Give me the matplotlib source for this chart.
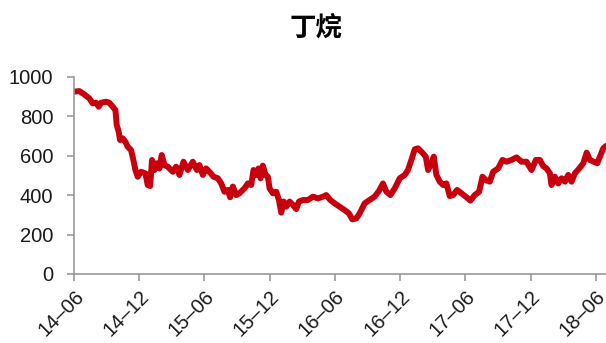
import matplotlib
matplotlib.use("Agg")
from matplotlib import pyplot as plt

# months counted from 2014-06, price values
months = [0.0, 0.49, 0.95, 1.41, 1.72, 2.03, 2.27, 2.49, 2.95, 3.25, 3.56, 3.81,
          3.93, 4.11, 4.24, 4.48, 4.73, 4.94, 5.25, 5.46, 5.65, 5.86, 6.17, 6.57,
          6.78, 7.0, 7.18, 7.40, 7.61, 7.86, 8.07, 8.32, 8.62, 9.09, 9.39, 9.70,
          10.07, 10.47, 10.93, 11.30, 11.54, 11.85, 12.15, 12.46, 12.83, 13.23, 13.54, 13.84,
          14.15, 14.36, 14.61, 14.92, 15.22, 15.68, 15.99, 16.30, 16.51, 16.76, 16.97, 17.16,
          17.37, 17.62, 17.83, 17.99, 18.29, 18.60, 18.85, 19.06, 19.28, 19.52, 19.83, 20.14,
          20.44, 20.69, 21.06, 21.52, 21.98, 22.44, 22.90, 23.20, 23.57, 23.97, 24.43, 24.89,
          25.29, 25.60, 25.97, 26.27, 26.73, 27.19, 27.65, 28.05, 28.42, 28.73, 29.10, 29.50,
          29.96, 30.42, 30.72, 31.03, 31.34, 31.64, 31.95, 32.35, 32.57, 32.87, 33.09, 33.33,
          33.64, 33.95, 34.25, 34.56, 34.87, 35.24, 35.64, 36.10, 36.46, 36.86, 37.26, 37.57,
          37.88, 38.24, 38.55, 39.01, 39.41, 39.78, 40.24, 40.70, 41.16, 41.62, 42.08, 42.48,
          42.85, 43.15, 43.46, 43.77, 43.92, 44.23, 44.54, 44.84, 45.15, 45.46, 45.76, 46.07,
          46.47, 46.84, 47.15, 47.45, 47.82, 48.13, 48.37, 48.68, 48.93]
price = [924, 927, 910, 890, 865, 868, 848, 868, 873, 868, 848, 831,
         755, 721, 679, 687, 670, 645, 628, 578, 527, 493, 518, 510,
         451, 446, 578, 527, 561, 535, 603, 552, 544, 518, 544, 502,
         569, 527, 569, 527, 552, 502, 535, 518, 493, 485, 459, 417,
         426, 389, 443, 400, 409, 434, 459, 451, 527, 502, 535, 485,
         549, 502, 493, 434, 409, 417, 375, 311, 367, 341, 367, 350,
         329, 367, 375, 375, 392, 383, 392, 400, 375, 358, 341, 324,
         307, 277, 282, 307, 358, 375, 392, 421, 459, 417, 400, 434,
         485, 502, 527, 578, 632, 637, 620, 595, 527, 561, 595, 502,
         468, 451, 459, 395, 400, 426, 409, 389, 372, 400, 417, 493,
         476, 468, 518, 535, 578, 569, 578, 591, 569, 569, 527, 578,
         578, 547, 535, 510, 451, 493, 459, 485, 468, 502, 468, 510,
         535, 561, 615, 578, 569, 561, 595, 637, 649]

tick_pos = [0, 6, 12, 18, 24, 30, 36, 42, 48]
tick_labels = ['14–06', '14–12', '15–06', '15–12', '16–06', '16–12', '17–06', '17–12', '18–06']

plt.rcParams['font.family'] = ['Liberation Sans', 'DejaVu Sans']

fig = plt.figure(figsize=(6.06, 3.43), dpi=100)
ax = fig.add_axes([0.1221, 0.2012, 0.8779, 0.5752])

ax.plot(months, price, color='#C8000E', lw=4.3, solid_joinstyle='round', solid_capstyle='round')

ax.set_xlim(0, 48.93)
ax.set_ylim(0, 1000)
ax.set_yticks([0, 200, 400, 600, 800, 1000])
ax.set_xticks(tick_pos)
ax.set_xticklabels(tick_labels, rotation=45, ha='right', rotation_mode='anchor')

for s in ['top', 'right']:
    ax.spines[s].set_visible(False)
for s in ['left', 'bottom']:
    ax.spines[s].set_color('#999999')
    ax.spines[s].set_linewidth(1.2)
ax.tick_params(colors='#999999', labelcolor='#1a1a1a', length=5, width=1.2,
               labelsize=14.5)
ax.tick_params(axis='y', pad=10)
ax.tick_params(axis='x', pad=4)

fig.text(0.522, 0.918, '丁烷', ha='center', va='center', fontsize=19, fontweight='bold',
         family=['Noto Sans CJK SC', 'DejaVu Sans'])

fig.savefig('out.png', dpi=100)
